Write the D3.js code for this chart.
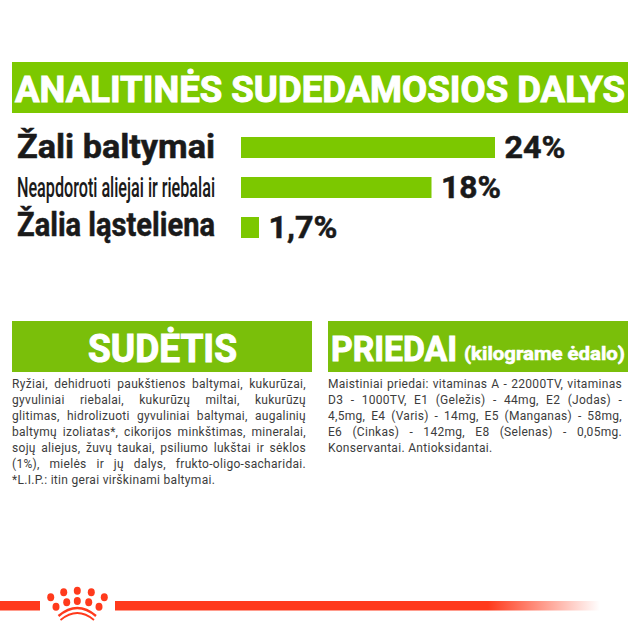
<!DOCTYPE html>
<html>
<head>
<meta charset="utf-8">
<script src="https://cdn.jsdelivr.net/npm/d3@7"></script>
<style>
  html,body{margin:0;padding:0;background:#fff;}
  svg{display:block;}
  .head{font-family:Roboto,sans-serif;font-weight:700;fill:#fff;stroke:#fff;stroke-width:1px;}
  .lab{font-family:Roboto,sans-serif;font-weight:700;fill:#1a1a1a;stroke:#1a1a1a;stroke-width:.5px;}
  .body{font-family:Roboto,sans-serif;font-size:12px;fill:#3c3c3c;letter-spacing:.3px;}
</style>
</head>
<body>
<svg id="viz" width="640" height="640"></svg>
<script>
/* ---------- data ---------- */
const titleText = 'ANALITINĖS SUDEDAMOSIOS DALYS';
const categories = ['Žali baltymai','Neapdoroti aliejai ir riebalai','Žalia ląsteliena'];
const values = [24, 18, 1.7];
const valueLabels = ['24%','18%','1,7%'];
const sudetisLines = [
  'Ryžiai, dehidruoti paukštienos baltymai, kukurūzai,',
  'gyvuliniai riebalai, kukurūzų miltai, kukurūzų',
  'glitimas, hidrolizuoti gyvuliniai baltymai, augalinių',
  'baltymų izoliatas*, cikorijos minkštimas, mineralai,',
  'sojų aliejus, žuvų taukai, psiliumo lukštai ir sėklos',
  '(1%), mielės ir jų dalys, frukto-oligo-sacharidai.',
  '*L.I.P.: itin gerai virškinami baltymai.'
];
const priedaiLines = [
  'Maistiniai priedai: vitaminas A - 22000TV, vitaminas',
  'D3 - 1000TV, E1 (Geležis) - 44mg, E2 (Jodas) -',
  '4,5mg, E4 (Varis) - 14mg, E5 (Manganas) - 58mg,',
  'E6 (Cinkas) - 142mg, E8 (Selenas) - 0,05mg.',
  'Konservantai. Antioksidantai.'
];

/* ---------- setup ---------- */
const GREEN = '#7cc800', GREEN2 = '#7abf0a', RED = '#ff3a1c';
const svg = d3.select('#viz');

// squeeze or stretch a text to the width it has in the picture
function fit(sel, w){ return sel.attr('textLength', w).attr('lengthAdjust','spacingAndGlyphs'); }

/* ---------- top banner ---------- */
svg.append('rect').attr('x',12).attr('y',62).attr('width',616).attr('height',51).attr('fill',GREEN);
fit(svg.append('text').attr('class','head').attr('x',15).attr('y',101.5)
  .style('font-size','37px').text(titleText), 610);

/* ---------- bars ---------- */
const xScale = d3.scaleLinear().domain([0,24]).range([241,495]);
const yScale = d3.scaleBand().domain(categories).range([137,238]).paddingInner(0.475).paddingOuter(0);

svg.selectAll('.bar').data(categories).enter().append('rect')
  .attr('class','bar')
  .attr('x', xScale(0))
  .attr('y', d => yScale(d))
  .attr('width', (d,i) => xScale(values[i]) - xScale(0))
  .attr('height', yScale.bandwidth())
  .attr('fill', GREEN);

const labelSize = [33, 28, 33];
const labelDrop = [21, 20, 19];
svg.selectAll('.cat').data(categories).enter().append('text')
  .attr('class','lab cat')
  .attr('x',17)
  .attr('y', (d,i) => yScale(d) + labelDrop[i])
  .style('font-size',(d,i) => labelSize[i]+'px')
  .style('stroke-width',(d,i) => i === 1 ? '.1px' : '.5px')
  .style('font-weight',(d,i) => i === 1 ? 500 : 700)
  .attr('textLength',198).attr('lengthAdjust','spacingAndGlyphs')
  .text(d => d);

const valueWidth = [61, 60, 69];
svg.selectAll('.val').data(categories).enter().append('text')
  .attr('class','lab val')
  .attr('x', (d,i) => xScale(values[i]) + 9.5)
  .attr('y', d => yScale(d) + 21)
  .style('font-size','31px')
  .attr('textLength',(d,i) => valueWidth[i]).attr('lengthAdjust','spacingAndGlyphs')
  .text((d,i) => valueLabels[i]);

/* ---------- lower panels ---------- */
function panel(x, lines){
  svg.append('rect').attr('x',x).attr('y',321).attr('width',300).attr('height',51).attr('fill',GREEN2);
  lines.forEach((ln,i) => {
    const t = svg.append('text').attr('class','body').attr('x',x).attr('y',388 + i*16).text(ln);
    if (i < lines.length-1){
      // justified: spread the gap evenly over the spaces
      const gaps = ln.split(' ').length - 1;
      const extra = (294 - t.node().getComputedTextLength()) / gaps;
      t.style('word-spacing', extra + 'px');
    }
  });
}
panel(12, sudetisLines);
panel(328, priedaiLines);

fit(svg.append('text').attr('class','head').attr('x',88).attr('y',362)
  .style('font-size','38px').text('SUDĖTIS'), 149);
fit(svg.append('text').attr('class','head').attr('x',331).attr('y',361)
  .style('font-size','35px').text('PRIEDAI'), 126);
fit(svg.append('text').attr('class','head').attr('x',464).attr('y',360)
  .style('font-size','19px').style('stroke-width','.6px').text('(kilograme ėdalo)'), 161);

/* ---------- footer band with crown ---------- */
const defs = svg.append('defs');
const grad = defs.append('linearGradient').attr('id','fade');
grad.append('stop').attr('offset','0').attr('stop-color',RED).attr('stop-opacity',1);
grad.append('stop').attr('offset','1').attr('stop-color',RED).attr('stop-opacity',0);

svg.append('rect').attr('x',0).attr('y',601).attr('width',40).attr('height',9.5).attr('fill',RED);
svg.append('rect').attr('x',115).attr('y',601).attr('width',373).attr('height',9.5).attr('fill',RED);
svg.append('rect').attr('x',488).attr('y',601).attr('width',112).attr('height',9.5).attr('fill','url(#fade)');

const crownDots = [
  [50.7,597.3],[63.7,592.3],[77.3,590.7],[91.3,592.3],[104.3,597.3],
  [56,606.7],[66.7,602.3],[77.3,601],[88.7,602.3],[99,606.7]
];
svg.selectAll('.dot').data(crownDots).enter().append('ellipse')
  .attr('class','dot').attr('cx',d=>d[0]).attr('cy',d=>d[1])
  .attr('rx',3.5).attr('ry',4).attr('fill',RED);
[['M58.5,616Q77.3,600 96,616',2.4],['M60.5,620Q77.3,606 94,620',1.8]].forEach(a => {
  svg.append('path').attr('d',a[0]).attr('fill','none').attr('stroke',RED).attr('stroke-width',a[1]);
});
</script>
</body>
</html>
